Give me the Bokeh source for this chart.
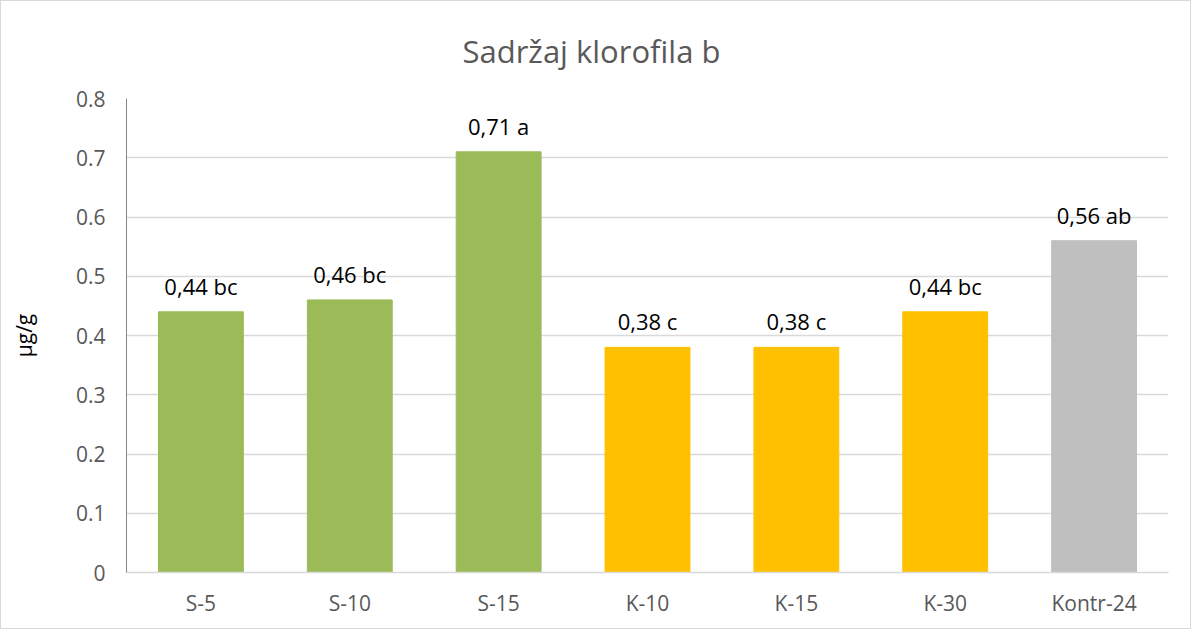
from bokeh.plotting import figure
from bokeh.models import FixedTicker, ColumnDataSource, Title
from bokeh.core.properties import value
from bokeh.embed import file_html
from bokeh.resources import INLINE

categories = ["S-5", "S-10", "S-15", "K-10", "K-15", "K-30", "Kontr-24"]
values = [0.44, 0.46, 0.71, 0.38, 0.38, 0.44, 0.56]
letters = ["bc", "bc", "a", "c", "c", "bc", "ab"]
colors = ["#9BBB59", "#9BBB59", "#9BBB59", "#FFC000", "#FFC000", "#FFC000", "#BFBFBF"]
y_ticks = [0, 0.1, 0.2, 0.3, 0.4, 0.5, 0.6, 0.7, 0.8]
y_tick_labels = ["0", "0.1", "0.2", "0.3", "0.4", "0.5", "0.6", "0.7", "0.8"]

labels = [("%.2f" % v).replace(".", ",") + " " + l for v, l in zip(values, letters)]
src = ColumnDataSource(dict(cat=categories, val=values, col=colors, lab=labels))

FONT = "Open Sans"
p = figure(x_range=categories, y_range=(0, 0.8), width=1191, height=629,
           output_backend="svg", toolbar_location=None,
           min_border_left=125, min_border_right=24, min_border_top=97, min_border_bottom=58)
p.styles = {"border": "1px solid #D9D9D9"}
p.outline_line_color = None
p.background_fill_color = "white"
p.border_fill_color = "white"

t = Title(text="Sadržaj klorofila b", align="left", offset=336, standoff=53,
          text_font=FONT, text_font_size="31px",
          text_font_style="normal", text_color="#595959")
p.add_layout(t, "above")

p.vbar(x="cat", top="val", width=0.57, color="col", source=src)
p.text(x="cat", y="val", text="lab", source=src, text_align="center", text_baseline="bottom",
       y_offset=-11, text_font=value(FONT), text_font_size="22px", text_color="#000000")

p.yaxis.ticker = FixedTicker(ticks=y_ticks)
p.yaxis.major_label_overrides = {t_: l for t_, l in zip(y_ticks, y_tick_labels)}
p.yaxis.axis_line_color = "#868686"
p.yaxis.major_tick_line_color = None
p.yaxis.minor_tick_line_color = None
p.yaxis.major_label_text_font = FONT
p.yaxis.major_label_text_font_size = "21px"
p.yaxis.major_label_text_color = "#595959"
p.yaxis.major_label_standoff = 15
p.yaxis.axis_label = "µg/g"
p.yaxis.axis_label_text_font = FONT
p.yaxis.axis_label_text_font_size = "21px"
p.yaxis.axis_label_text_font_style = "normal"
p.yaxis.axis_label_text_color = "#000000"
p.yaxis.axis_label_standoff = 35

p.xaxis.axis_line_color = "#D9D9D9"
p.xaxis.axis_line_width = 1.3
p.xaxis.major_tick_line_color = None
p.xaxis.minor_tick_line_color = None
p.xaxis.major_label_text_font = FONT
p.xaxis.major_label_text_font_size = "21px"
p.xaxis.major_label_text_color = "#595959"
p.xaxis.major_label_standoff = 10

p.xgrid.grid_line_color = None
p.ygrid.grid_line_color = "#D9D9D9"
p.ygrid.grid_line_width = 1.3

open("out.html", "w").write(file_html(p, INLINE))
